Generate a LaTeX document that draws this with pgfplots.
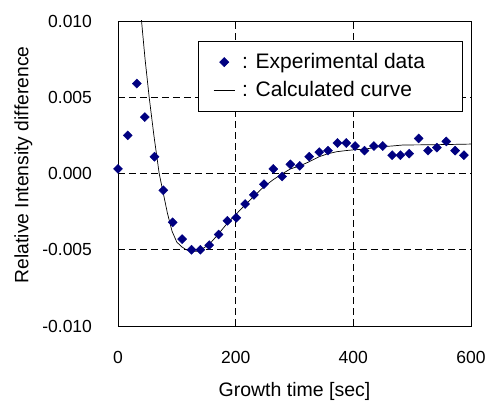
\documentclass[border=0pt]{standalone}
\usepackage{pgfplots}
\pgfplotsset{compat=1.18}
\usepackage{fontspec}
\setmainfont{Liberation Sans}
\definecolor{navy}{HTML}{000080}
\pgfplotsset{
  diamondlegend/.style={legend image code/.code={\draw[#1] plot coordinates {(10.5pt,0pt)};}},
  linelegend/.style={legend image code/.code={\draw[#1] (0pt,0pt) -- (21pt,0pt);}},
}
\begin{document}
\fontsize{17.5}{21}\selectfont
\begin{tikzpicture}
\path[use as bounding box] (-118pt,-75pt) rectangle (370pt,326pt);
\begin{axis}[
  scale only axis, width=353pt, height=305pt,
  at={(0pt,0pt)}, anchor=south west,
  xmin=0, xmax=600, ymin=-0.01, ymax=0.01,
  scaled y ticks=false, scaled x ticks=false,
  xtick={0,200,400,600}, xticklabels={0,200,400,600},
  ytick={-0.01,-0.005,0,0.005,0.01},
  yticklabels={-0.010,-0.005,0.000,0.005,0.010},
  major tick length=0pt,
  tick label style={font=\fontsize{17.5}{21}\selectfont},
  yticklabel style={anchor=east, xshift=-20pt},
  xticklabel style={anchor=north, yshift=-19pt},
  grid=major,
  major grid style={black, line width=0.6pt, dash pattern=on 7pt off 4pt},
  axis line style={black, line width=0.9pt},
  xlabel={Growth time [sec]},
  ylabel={Relative Intensity difference},
  xlabel style={at={(axis description cs:0.5,-0.213)}, anchor=center, font=\fontsize{19.5}{23}\selectfont},
  ylabel style={at={(axis description cs:-0.268,0.528)}, anchor=center, rotate=0, font=\fontsize{19.3}{23}\selectfont},
  clip=true,
  legend style={at={(axis description cs:0.2266,0.935)}, anchor=north west,
    draw=black, line width=0.8pt, inner xsep=15pt, inner ysep=10pt,
    row sep=6pt, font=\fontsize{21}{25}\selectfont,
    nodes={inner sep=2pt}},
  legend cell align=left,
]
\addplot[only marks, mark=square*, mark size=3.2pt,
  mark options={rotate=45, fill=navy, draw=navy}, diamondlegend] coordinates {
(0,0.0003) (16.5,0.0025) (32,0.0059) (45.5,0.0037) (62,0.0011)
(77,-0.0011) (93,-0.0032) (109,-0.0043) (125,-0.0050) (140,-0.0050)
(155,-0.0047) (171,-0.0040) (186,-0.0031) (201,-0.0029) (216,-0.0020)
(231,-0.0014) (248,-0.0007) (264,0.0003) (279,-0.0002) (293,0.0006)
(309,0.0005) (325,0.0011) (342,0.0014) (357,0.0015) (373,0.0020)
(388,0.0020) (403,0.0018) (419,0.0015) (435,0.0018) (450,0.0018)
(466,0.0012) (480,0.0012) (495,0.0013) (511,0.0023) (527,0.0015)
(542,0.0017) (558,0.0021) (573,0.0015) (588,0.0012)
};
\addlegendentry{\hspace*{5pt}: Experimental data\rule{20pt}{0pt}}
\addplot[black, line width=0.7pt, sharp plot, linelegend] coordinates {
(38,0.0110) (40,0.0100) (46,0.0075) (53,0.0050) (61,0.0025) (70,0.0000)
(77,-0.0013) (84,-0.0026) (92,-0.0038) (100,-0.0045) (108,-0.0048)
(116,-0.0050) (124,-0.0051) (135,-0.0051) (145,-0.0049) (155,-0.00465)
(170,-0.0040) (185,-0.0033) (200,-0.0027) (215,-0.0021) (231,-0.0015)
(247,-0.0009) (264,-0.0004) (280,0.0000) (293,0.0003) (309,0.0005)
(325,0.00077) (342,0.0011) (357,0.0013) (372,0.00143) (387,0.0015)
(400,0.00155) (420,0.0016) (445,0.00176) (465,0.0018) (485,0.00187)
(520,0.00188) (559,0.0019) (600,0.00193)
};
\addlegendentry{\hspace*{5pt}: Calculated curve}
\end{axis}
\end{tikzpicture}
\end{document}
